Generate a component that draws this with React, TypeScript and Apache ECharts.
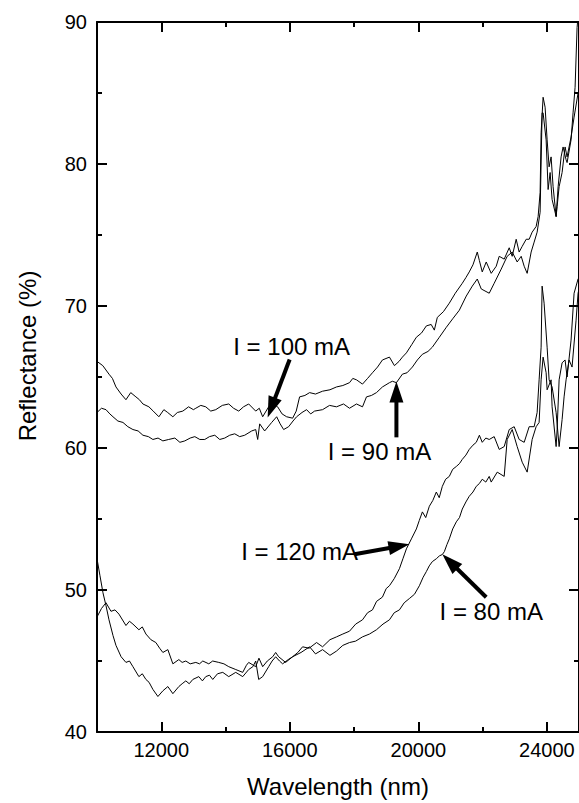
import React, { useEffect, useRef } from "react";
import * as echarts from "echarts";

const FONT = "'Liberation Sans', Arial, Helvetica, sans-serif";

const X_MAJOR = [12000, 16000, 20000, 24000];
const X_MINOR = [14000, 18000, 22000];

const I100: [number, number][] = [[10000,66.1],[10180,65.8],[10373,65.2],[10480,64.9],[10590,64.3],[10750,63.8],[10901,63.4],[11050,63.9],[11211,63.6],[11320,63.4],[11429,63.1],[11615,62.9],[11750,62.6],[11926,62.2],[12081,62.7],[12200,62.5],[12361,62.2],[12500,62.5],[12671,62.6],[12850,62.9],[13000,62.7],[13075,62.8],[13230,63.0],[13385,62.9],[13540,62.6],[13696,62.7],[13900,63.0],[14100,63.1],[14250,62.8],[14411,62.6],[14560,62.9],[14721,63.1],[14939,62.6],[15050,62.8],[15156,62.2],[15342,62.9],[15480,63.1],[15622,62.9],[15760,62.4],[15901,62.2],[16088,62.1],[16200,62.6],[16305,63.6],[16470,63.7],[16616,63.9],[16800,63.8],[17020,64.0],[17250,64.1],[17454,64.3],[17650,64.4],[17858,64.6],[17960,64.9],[18076,64.8],[18262,64.5],[18420,64.9],[18573,65.3],[18730,65.7],[18883,66.2],[19101,66.4],[19256,65.8],[19400,66.1],[19504,66.4],[19629,66.7],[19800,67.3],[19939,67.8],[20100,68.1],[20250,68.6],[20400,68.7],[20498,68.3],[20591,69.2],[20780,69.6],[20964,70.2],[21150,70.9],[21368,71.6],[21480,72.0],[21585,72.4],[21700,72.9],[21834,73.8],[21900,73.2],[21989,72.4],[22113,73.1],[22268,72.3],[22424,72.8],[22517,73.5],[22672,73.3],[22828,74.1],[22921,73.5],[23045,74.7],[23138,73.8],[23232,74.2],[23356,74.7],[23449,74.7],[23542,75.2],[23666,75.6],[23728,76.3],[23790,78.0],[23821,82.2],[23883,84.7],[23945,84.0],[24008,81.7],[24070,79.8],[24132,80.5],[24194,78.4],[24288,76.3],[24350,78.4],[24443,80.5],[24505,81.2],[24598,80.3],[24629,80.1],[24753,81.7],[24815,83.6],[24878,85.4],[24940,89.6],[25000,91.2]];

const I90: [number, number][] = [[10000,62.5],[10140,62.8],[10280,62.7],[10400,62.4],[10497,62.2],[10650,61.9],[10808,61.8],[10960,61.5],[11118,61.3],[11280,61.2],[11429,60.9],[11600,60.8],[11739,60.6],[11900,60.7],[12050,60.5],[12230,60.6],[12423,60.7],[12580,60.4],[12733,60.5],[12900,60.7],[13044,60.8],[13200,60.6],[13354,60.6],[13500,60.8],[13665,60.9],[13820,60.6],[13976,60.7],[14130,60.9],[14286,61.0],[14440,60.8],[14597,60.9],[14814,61.2],[14939,61.3],[15001,60.6],[15063,61.7],[15218,61.2],[15436,61.8],[15591,62.2],[15700,61.7],[15808,61.3],[15964,61.5],[16100,61.9],[16212,62.2],[16380,62.5],[16523,62.7],[16650,62.4],[16771,62.6],[17020,62.7],[17237,63.0],[17454,62.9],[17672,63.1],[17858,62.8],[18076,63.1],[18262,62.9],[18386,63.6],[18540,63.7],[18697,63.9],[18883,64.3],[19101,64.6],[19194,64.7],[19318,64.6],[19504,65.2],[19650,65.3],[19815,65.7],[19970,66.2],[20126,66.6],[20300,66.8],[20436,67.1],[20654,67.8],[20871,68.5],[21070,69.1],[21275,69.7],[21492,70.7],[21679,71.4],[21834,71.9],[21958,71.2],[22206,70.9],[22361,71.6],[22579,72.6],[22765,73.5],[22921,73.8],[23076,73.1],[23201,73.5],[23294,72.8],[23387,72.3],[23511,73.8],[23604,74.5],[23697,75.2],[23790,76.6],[23852,83.6],[23883,83.6],[23977,81.7],[24039,78.2],[24101,79.4],[24163,77.5],[24288,76.3],[24319,77.0],[24381,78.4],[24474,79.4],[24567,81.2],[24629,80.5],[24753,81.9],[24847,83.3],[24971,85.0],[25000,85.2]];

const I120: [number, number][] = [[10000,48.1],[10140,48.7],[10280,49.1],[10435,48.5],[10560,48.6],[10683,48.3],[10901,47.5],[11010,47.8],[11118,47.6],[11304,47.2],[11410,47.4],[11522,46.9],[11677,46.5],[11832,46.3],[11950,45.9],[12050,45.6],[12205,45.8],[12361,44.8],[12547,45.1],[12650,44.9],[12764,45.0],[12900,44.8],[13075,44.9],[13190,44.8],[13292,45.0],[13479,44.8],[13600,45.0],[13789,44.9],[13950,44.8],[14100,44.6],[14317,44.4],[14535,44.2],[14650,44.7],[14721,44.9],[14939,44.6],[15040,45.2],[15156,44.6],[15300,45.0],[15467,45.3],[15560,45.6],[15653,45.3],[15870,44.9],[16088,45.3],[16250,45.6],[16398,46.0],[16600,45.9],[16833,46.3],[17020,46.0],[17250,46.5],[17454,46.7],[17650,46.9],[17858,47.1],[18050,47.6],[18262,47.9],[18420,48.4],[18573,48.6],[18700,49.2],[18883,49.5],[19000,50.1],[19101,50.3],[19250,50.8],[19411,51.5],[19520,52.2],[19629,52.9],[19784,53.6],[19939,54.3],[20030,54.9],[20126,55.5],[20230,55.1],[20343,55.9],[20450,56.3],[20560,56.9],[20650,56.5],[20747,57.3],[20850,57.8],[20964,58.0],[21070,58.5],[21182,58.7],[21280,58.9],[21368,59.2],[21480,59.5],[21585,59.9],[21700,60.2],[21803,60.4],[21900,60.9],[21989,60.4],[22100,60.7],[22206,60.6],[22361,60.8],[22517,59.9],[22672,60.1],[22828,61.3],[22983,61.5],[23138,60.6],[23294,60.4],[23449,61.5],[23604,61.5],[23697,62.5],[23759,64.8],[23821,67.1],[23852,71.4],[23914,70.2],[24008,67.1],[24070,64.8],[24163,64.3],[24288,62.5],[24381,60.1],[24474,62.0],[24536,63.6],[24598,64.8],[24691,66.2],[24784,65.7],[24909,69.0],[24971,70.9],[25000,71.2]];

const I80: [number, number][] = [[10000,52.2],[10093,51.0],[10186,49.8],[10280,48.9],[10373,47.9],[10497,46.8],[10590,46.1],[10750,45.3],[10901,44.9],[11010,45.0],[11118,44.6],[11304,43.9],[11410,44.1],[11522,43.7],[11620,43.5],[11739,43.0],[11895,42.5],[12050,42.9],[12205,43.2],[12361,42.7],[12547,43.2],[12650,43.4],[12764,43.6],[12870,43.4],[12982,43.7],[13168,43.9],[13280,43.6],[13385,43.9],[13500,44.0],[13603,43.7],[13750,44.1],[13914,44.2],[14100,43.9],[14317,44.2],[14535,43.9],[14721,44.4],[14850,44.6],[14939,45.0],[15032,43.7],[15156,43.9],[15342,44.6],[15450,45.0],[15560,45.3],[15680,45.0],[15777,44.8],[15950,45.1],[16088,45.3],[16350,45.6],[16616,46.0],[16800,45.5],[17020,45.8],[17250,45.4],[17454,45.7],[17650,46.1],[17858,46.3],[18050,46.4],[18262,46.7],[18480,46.9],[18697,47.2],[18900,47.6],[19101,47.9],[19250,48.4],[19411,48.6],[19560,49.1],[19722,49.4],[19880,49.7],[20032,50.3],[20150,50.9],[20250,51.3],[20340,51.7],[20436,52.0],[20560,52.2],[20654,52.4],[20747,52.5],[20809,52.7],[20890,53.2],[20964,53.6],[21070,54.3],[21182,54.8],[21280,55.1],[21368,55.7],[21480,56.2],[21585,56.6],[21700,56.9],[21803,57.3],[21900,57.5],[21989,57.8],[22100,57.6],[22206,58.0],[22268,57.6],[22455,58.3],[22672,58.0],[22765,60.6],[22921,61.3],[23076,60.1],[23232,59.0],[23387,58.3],[23542,60.6],[23666,61.5],[23759,61.8],[23821,64.8],[23883,66.4],[23977,65.3],[24008,64.1],[24132,64.8],[24163,62.9],[24288,60.1],[24319,61.3],[24381,64.8],[24474,66.0],[24567,66.2],[24629,65.0],[24753,67.6],[24847,70.9],[24971,71.9],[25000,72.0]];

const ANNOTATIONS = [
  { text: "I = 100 mA", at: [16057, 67.15], tail: [15995, 66.23], tip: [15311, 62.15] },
  { text: "I = 90 mA", at: [18790, 59.76], tail: [19318, 60.75], tip: [19318, 64.68] },
  { text: "I = 120 mA", at: [16305, 52.73], tail: [18013, 52.52], tip: [19722, 53.22] },
  { text: "I = 80 mA", at: [22269, 48.51], tail: [22113, 49.49], tip: [20747, 52.52] },
];

const X_MIN = 10000, X_MAX = 25000, Y_MIN = 40, Y_MAX = 90;

export default function App() {
  const ref = useRef<HTMLDivElement>(null);
  useEffect(() => {
    if (!ref.current) return;
    const chart = echarts.init(ref.current, null, { renderer: "svg" });
    const black = "#000";
    const line = { show: true, onZero: false, lineStyle: { color: black, width: 2 } };
    const xBase = { type: "value", min: X_MIN, max: X_MAX, splitLine: { show: false } };
    const lineSeries = (name: string, data: [number, number][]) => ({
      name, type: "line", data, showSymbol: false, symbol: "none",
      lineStyle: { color: black, width: 1 }, xAxisIndex: 0, yAxisIndex: 0, clip: true,
    });
    chart.setOption({
      animation: false,
      backgroundColor: "#fff",
      grid: { left: 97, top: 22, width: 483, height: 711, containLabel: false },
      xAxis: [
        {
          ...xBase, position: "bottom", axisLine: line,
          axisTick: { show: true, inside: true, length: 10, lineStyle: { color: black, width: 2 }, customValues: X_MAJOR },
          axisLabel: { show: true, customValues: X_MAJOR, fontSize: 20, color: black, fontFamily: FONT, margin: 8, formatter: (v: number) => String(v) },
          name: "Wavelength (nm)", nameLocation: "middle", nameGap: 42,
          nameTextStyle: { fontSize: 24, color: black, fontFamily: FONT },
        },
        {
          ...xBase, position: "bottom", axisLine: { show: false },
          axisTick: { show: true, inside: true, length: 5, lineStyle: { color: black, width: 2 }, customValues: X_MINOR },
          axisLabel: { show: false },
        },
        {
          ...xBase, position: "top", axisLine: line,
          axisTick: { show: true, inside: true, length: 10, lineStyle: { color: black, width: 2 }, customValues: X_MAJOR },
          axisLabel: { show: false },
        },
        {
          ...xBase, position: "top", axisLine: { show: false },
          axisTick: { show: true, inside: true, length: 5, lineStyle: { color: black, width: 2 }, customValues: X_MINOR },
          axisLabel: { show: false },
        },
      ],
      yAxis: [
        {
          type: "value", position: "left", min: Y_MIN, max: Y_MAX, interval: 10,
          axisLine: line, splitLine: { show: false },
          axisTick: { show: true, inside: true, length: 10, lineStyle: { color: black, width: 2 } },
          minorTick: { show: true, splitNumber: 2, length: 5, lineStyle: { color: black, width: 2 } },
          axisLabel: { fontSize: 20, color: black, fontFamily: FONT, margin: 10, formatter: (v: number) => String(v) },
        },
        {
          type: "value", position: "right", min: Y_MIN, max: Y_MAX, interval: 10,
          axisLine: line, splitLine: { show: false },
          axisTick: { show: true, inside: true, length: 10, lineStyle: { color: black, width: 2 } },
          minorTick: { show: true, splitNumber: 2, length: 5, lineStyle: { color: black, width: 2 } },
          axisLabel: { show: false },
        },
      ],
      series: [
        lineSeries("I = 100 mA", I100),
        lineSeries("I = 90 mA", I90),
        lineSeries("I = 120 mA", I120),
        lineSeries("I = 80 mA", I80),
      ],
    });

    const toPx = (p: number[]) => chart.convertToPixel({ xAxisIndex: 0, yAxisIndex: 0 }, p) as number[];
    const graphics: any[] = [];
    const L = 21, W = 7;
    ANNOTATIONS.forEach((a) => {
      const c = toPx(a.at);
      graphics.push({
        type: "text", x: c[0], y: c[1],
        style: { text: a.text, fill: black, font: `24px ${FONT}`, align: "center", verticalAlign: "middle" },
      });
      const t = toPx(a.tail), p = toPx(a.tip);
      const dx = p[0] - t[0], dy = p[1] - t[1];
      const len = Math.hypot(dx, dy);
      const ux = dx / len, uy = dy / len;
      const nx = -uy, ny = ux;
      const bx = p[0] - ux * L, by = p[1] - uy * L;
      graphics.push({
        type: "line",
        shape: { x1: t[0], y1: t[1], x2: bx + ux * 2, y2: by + uy * 2 },
        style: { stroke: black, lineWidth: 4 },
      });
      graphics.push({
        type: "polygon",
        shape: { points: [[p[0], p[1]], [bx + nx * W, by + ny * W], [bx - nx * W, by - ny * W]] },
        style: { fill: black },
      });
    });
    graphics.push({
      type: "text", x: 27, y: 356, rotation: Math.PI / 2,
      style: { text: "Reflectance (%)", fill: black, font: `24px ${FONT}`, align: "center", verticalAlign: "middle" },
    });
    chart.setOption({ graphic: graphics });

    return () => chart.dispose();
  }, []);
  return <div ref={ref} style={{ position: "fixed", left: 0, top: 0, width: 579, height: 803 }} />;
}
